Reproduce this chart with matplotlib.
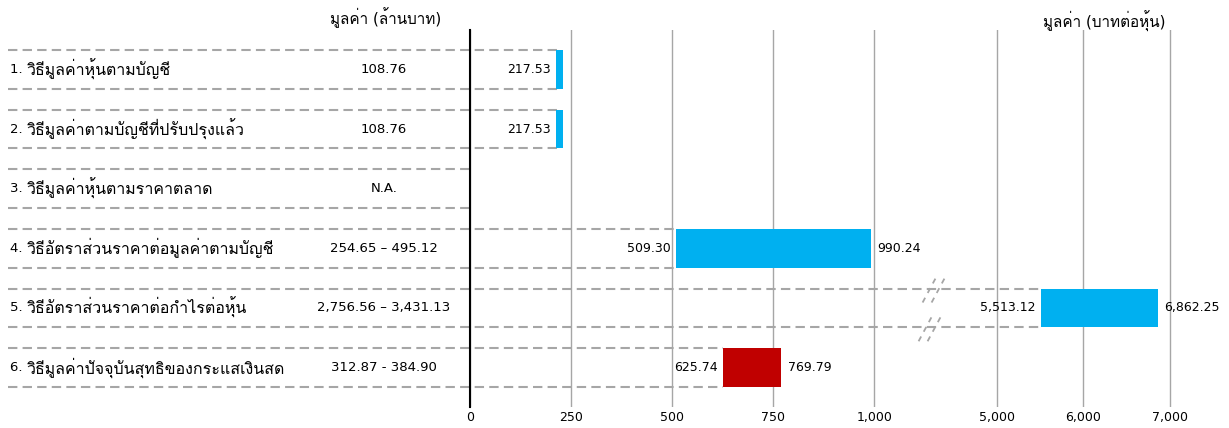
import numpy as np
import matplotlib
matplotlib.use("Agg")
import matplotlib.pyplot as plt
from matplotlib import font_manager
from matplotlib.ft2font import FT2Font
import matplotlib.transforms as mtransforms

# ---------------- data ----------------
methods = [
    "1. วิธีมูลค่าหุ้นตามบัญชี",
    "2. วิธีมูลค่าตามบัญชีที่ปรับปรุงแล้ว",
    "3. วิธีมูลค่าหุ้นตามราคาตลาด",
    "4. วิธีอัตราส่วนราคาต่อมูลค่าตามบัญชี",
    "5. วิธีอัตราส่วนราคาต่อกำไรต่อหุ้น",
    "6. วิธีมูลค่าปัจจุบันสุทธิของกระแสเงินสด",
]
value_mb = ["108.76", "108.76", "N.A.", "254.65 – 495.12",
            "2,756.56 – 3,431.13", "312.87 - 384.90"]
low_share = [217.53, 217.53, np.nan, 509.30, 5513.12, 625.74]
high_share = [217.53, 217.53, np.nan, 990.24, 6862.25, 769.79]
bar_colors = ["#00B0F0", "#00B0F0", "#00B0F0", "#00B0F0", "#00B0F0", "#C00000"]
xticks = [0, 250, 500, 750, 1000, 5000, 6000, 7000]
xticklabels = ["0", "250", "500", "750", "1,000", "5,000", "6,000", "7,000"]
title_left = "มูลค่า (ล้านบาท)"
title_right = "มูลค่า (บาทต่อหุ้น)"


# ---------------- font ----------------
def find_thai_font():
    prefs = ["Tahoma", "Leelawadee UI", "Leelawadee", "Loma", "Noto Sans Thai",
             "Noto Sans Thai UI", "Sarabun", "Garuda", "Waree", "Umpush",
             "Kinnari", "Norasi", "Tlwg Typo", "Laksaman"]
    cands = {}
    for fe in font_manager.fontManager.ttflist:
        try:
            cm = FT2Font(fe.fname).get_charmap()
        except Exception:
            continue
        if all(ord(c) in cm for c in "มูลค่า"):
            cands.setdefault(fe.name, fe.fname)
    for p in prefs:
        if p in cands:
            return p
    if cands:
        return sorted(cands)[0]
    return None


thai = find_thai_font()
fams = ["DejaVu Sans"] + ([thai] if thai else [])
plt.rcParams["font.family"] = fams
FS = 9          # latin / digits
FS_TH = 11.5    # thai text

# ---------------- broken scale ----------------
A_END, B_END = 1100.0, 4500.0
F_B = 1195.0
K_C = 0.21426


def fwd(x):
    x = np.asarray(x, dtype=float)
    return np.where(x <= A_END, x,
                    np.where(x <= B_END,
                             A_END + (x - A_END) * (F_B - A_END) / (B_END - A_END),
                             F_B + (x - B_END) * K_C))


def inv(f):
    f = np.asarray(f, dtype=float)
    return np.where(f <= A_END, f,
                    np.where(f <= F_B,
                             A_END + (f - A_END) * (B_END - A_END) / (F_B - A_END),
                             B_END + (f - F_B) / K_C))


W, H = 1229, 428
fig = plt.figure(figsize=(W / 100, H / 100), dpi=100)
ax = fig.add_axes([470 / W, (H - 407) / H, (1210 - 470) / W, (407 - 30) / H])
ax.set_xscale("function", functions=(fwd, inv))
ax.set_xlim(0, 7461)
ax.set_ylim(5.663, -0.663)

ax.set_xticks(xticks)
ax.set_xticklabels(xticklabels, fontsize=FS)
ax.set_yticks([])
ax.tick_params(axis="x", length=0, pad=3)
ax.grid(axis="x", color="#a6a6a6", lw=1.0)
ax.set_axisbelow(True)
for s in ["top", "right", "bottom"]:
    ax.spines[s].set_visible(False)
ax.spines["left"].set_color("black")
ax.spines["left"].set_linewidth(1.5)
ax.spines["left"].set_zorder(3)

BAR_H = 0.65
MIN_W_PX = 7
fig.canvas.draw()
x_left = ax.transData.inverted().transform(fig.transFigure.transform((8 / W, 0)))[0]

dash_style = (0, (4.5, 2.5))
dash_col = "#a6a6a6"
rows = np.arange(len(methods))
for i in rows:
    lo, hi = low_share[i], high_share[i]
    end = 0 if np.isnan(lo) else lo
    for yy in (i - BAR_H / 2, i + BAR_H / 2):
        ax.plot([x_left, end], [yy, yy], ls=dash_style, color=dash_col, lw=1.5,
                clip_on=False, zorder=1)
    if np.isnan(lo):
        continue
    px_lo = ax.transData.transform((lo, 0))[0]
    px_hi = ax.transData.transform((hi, 0))[0]
    if px_hi - px_lo < MIN_W_PX:
        lo_draw = ax.transData.inverted().transform((px_lo - 2, 0))[0]
        hi_draw = ax.transData.inverted().transform((px_lo - 2 + MIN_W_PX, 0))[0]
    else:
        lo_draw, hi_draw = lo, hi
    ax.barh(i, hi_draw - lo_draw, left=lo_draw, height=BAR_H, color=bar_colors[i], zorder=2)
    ax.annotate(f"{lo:,.2f}", (lo_draw, i), xytext=(-4, 0), textcoords="offset points",
                ha="right", va="center", fontsize=FS)
    if hi != lo:
        ax.annotate(f"{hi:,.2f}", (hi, i), xytext=(4.5, 0), textcoords="offset points",
                    ha="left", va="center", fontsize=FS)

# break marks on row 5 lines
brk_x = 2750
inv_t = fig.transFigure.inverted()
for yy, shift in ((4 - BAR_H / 2, 1.0), (4 + BAR_H / 2, -3.0)):
    c = ax.transData.transform((brk_x, yy))
    for dx in (-4.5, 4.5):
        p0 = (c[0] + shift + dx - 7.5, c[1] - 14)
        p1 = (c[0] + shift + dx + 7.5, c[1] + 14)
        q0 = inv_t.transform(p0)
        q1 = inv_t.transform(p1)
        fig.add_artist(plt.Line2D([q0[0], q1[0]], [q0[1], q1[1]], transform=fig.transFigure,
                                  ls=(0, (3, 3)), color=dash_col, lw=1.3))

# left columns
blend = mtransforms.blended_transform_factory(fig.transFigure, ax.transData)
for i in rows:
    prefix, rest = methods[i].split(" ", 1)
    t = ax.text(10 / W, i, prefix + " ", transform=blend, ha="left", va="center",
                fontsize=FS + 0.5, clip_on=False)
    ax.annotate(rest, xy=(1, 0.5), xycoords=t, xytext=(0, 0), textcoords="offset points",
                ha="left", va="center", fontsize=FS_TH, annotation_clip=False)
    ax.text(384 / W, i, value_mb[i], transform=blend, ha="center", va="center",
            fontsize=FS + 0.5, clip_on=False)

fig.text(386 / W, 1 - 18 / H, title_left, ha="center", va="center", fontsize=11)
fig.text(1104 / W, 1 - 21 / H, title_right, ha="center", va="center", fontsize=11)

fig.savefig("out.png", dpi=100)
